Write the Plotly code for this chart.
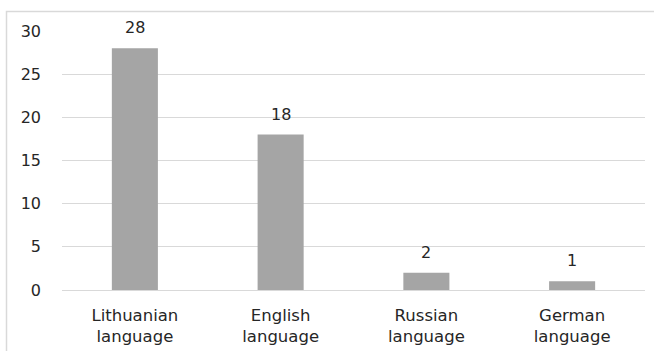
import plotly.graph_objects as go

categories = ["Lithuanian<br>language", "English<br>language", "Russian<br>language", "German<br>language"]
values = [28, 18, 2, 1]
y_ticks = [0, 5, 10, 15, 20, 25, 30]

W, H = 654, 351
L, R, T, B = 62, 9, 31, 61
pw, ph = W - L - R, H - T - B
FONT = "DejaVu Sans"
TXT = "#262626"

fig = go.Figure(go.Bar(
    x=categories, y=values,
    marker=dict(color="#a5a5a5", line=dict(width=0)),
    cliponaxis=False,
))

for c, v in zip(categories, values):
    fig.add_annotation(x=c, y=v, text=str(v), showarrow=False, yanchor="bottom",
                       yshift=9, font=dict(family=FONT, size=16, color=TXT))

def px_x(p):
    return (p - L) / pw

def px_y(p):
    return (H - B - p) / ph

fig.add_shape(type="rect", xref="paper", yref="paper",
              x0=px_x(6.5), x1=px_x(W + 20), y0=px_y(H + 20), y1=px_y(11.5),
              line=dict(color="#d9d9d9", width=1.5), fillcolor="rgba(0,0,0,0)", layer="below")

fig.update_layout(
    width=W, height=H,
    margin=dict(l=L, r=R, t=T, b=B),
    paper_bgcolor="white", plot_bgcolor="white",
    bargap=0.684,
    showlegend=False,
    font=dict(family=FONT, size=16, color=TXT),
)
fig.update_yaxes(range=[0, 30], tickvals=y_ticks, showgrid=True, gridcolor="#d9d9d9", gridwidth=1,
                 zeroline=True, zerolinecolor="#d9d9d9", zerolinewidth=1, showline=False,
                 automargin=False,
                 ticks="", ticklabelstandoff=20, tickfont=dict(family=FONT, size=16, color=TXT))
fig.update_xaxes(showline=False, ticks="", ticklabelstandoff=13, automargin=False,
                 tickfont=dict(family=FONT, size=16.5, color=TXT))

fig.write_html("out.html")
